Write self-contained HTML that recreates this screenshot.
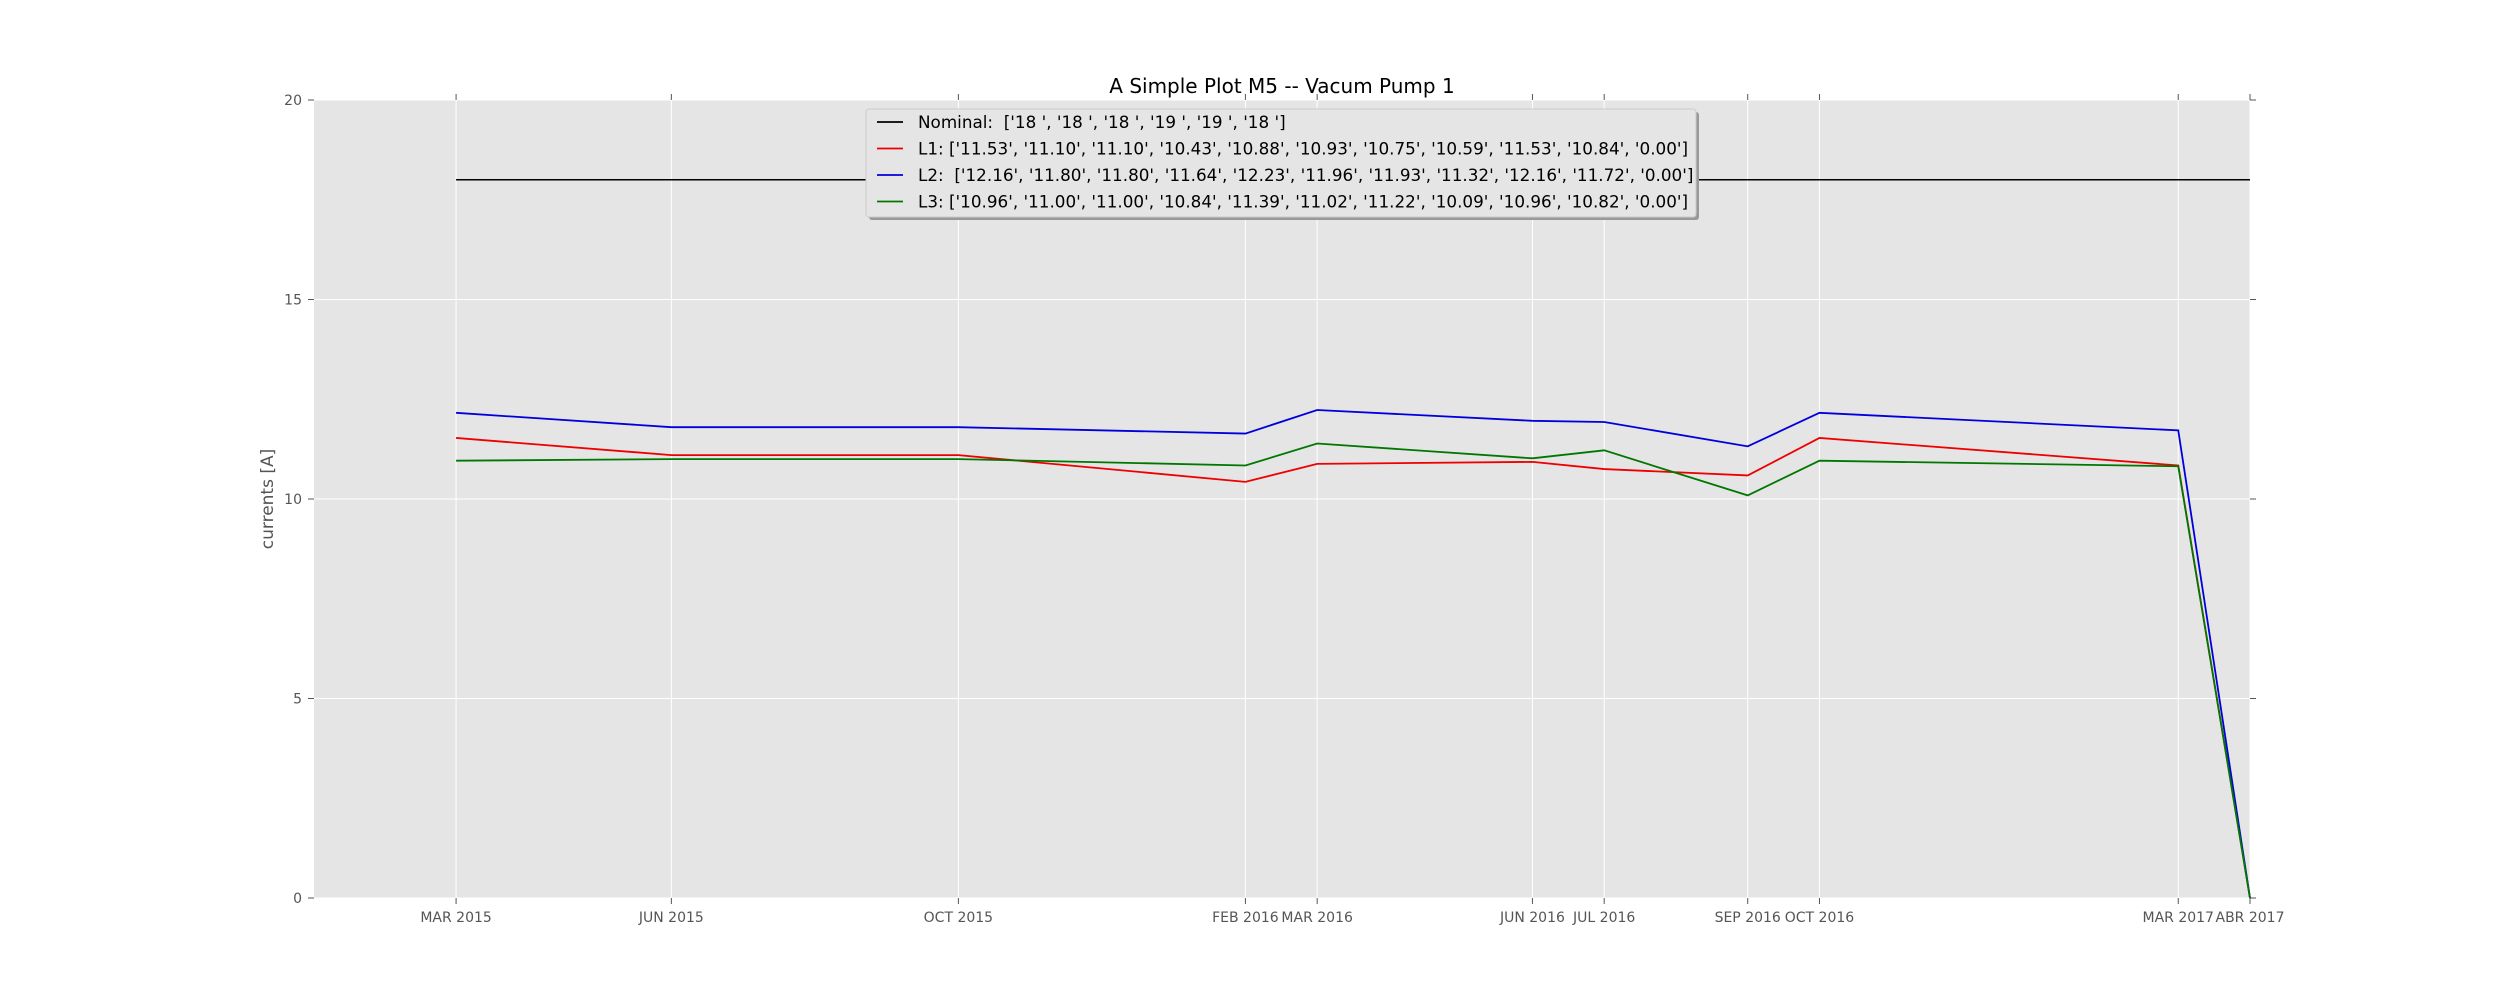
<!DOCTYPE html>
<html><head><meta charset="utf-8"><style>
body{margin:0;background:#fff}
svg{display:block;font-family:"DejaVu Sans","Liberation Sans",sans-serif}
text{white-space:pre}
</style></head><body>
<svg id="chart" width="2500" height="1000" viewBox="0 0 2500 1000" xmlns="http://www.w3.org/2000/svg">
<rect x="314" y="100" width="1936" height="798" fill="#e5e5e5"/>
<g id="grid"></g>
<g id="ticks"></g>
<g id="series"></g>
<text x="1282" y="93" font-size="20" text-anchor="middle" fill="#000">A Simple Plot M5 -- Vacum Pump 1</text>
<text transform="translate(273,499) rotate(-90)" font-size="17" text-anchor="middle" fill="#555">currents [A]</text>
<g id="legend">
<rect x="869" y="112" width="830" height="108" fill="#999" rx="3"/>
<rect x="866" y="109" width="830" height="108" fill="#e5e5e5" stroke="#ccc" rx="3"/>
</g>
</svg>
<script>
const months = [0, 3, 7, 11, 12, 15, 16, 18, 19, 24, 25];
const tickLabels = ["MAR 2015","JUN 2015","OCT 2015","FEB 2016","MAR 2016","JUN 2016","JUL 2016","SEP 2016","OCT 2016","MAR 2017","ABR 2017"];
const nominal = [18,18,18,18,18,18,18,18,18,18,18];
const l1 = [11.53,11.10,11.10,10.43,10.88,10.93,10.75,10.59,11.53,10.84,0.00];
const l2 = [12.16,11.80,11.80,11.64,12.23,11.96,11.93,11.32,12.16,11.72,0.00];
const l3 = [10.96,11.00,11.00,10.84,11.39,11.02,11.22,10.09,10.96,10.82,0.00];
const yTicks = [0,5,10,15,20];
const legendLabels = [
"Nominal:  ['18 ', '18 ', '18 ', '19 ', '19 ', '18 ']",
"L1: ['11.53', '11.10', '11.10', '10.43', '10.88', '10.93', '10.75', '10.59', '11.53', '10.84', '0.00']",
"L2:  ['12.16', '11.80', '11.80', '11.64', '12.23', '11.96', '11.93', '11.32', '12.16', '11.72', '0.00']",
"L3: ['10.96', '11.00', '11.00', '10.84', '11.39', '11.02', '11.22', '10.09', '10.96', '10.82', '0.00']"];
const NS="http://www.w3.org/2000/svg";
const X0=314,X1=2250,Y0=898,Y1=100,xmin=-1.98,xmax=25,ymin=0,ymax=20;
const xs=v=>X0+(v-xmin)/(xmax-xmin)*(X1-X0);
const ys=v=>Y0-(v-ymin)/(ymax-ymin)*(Y0-Y1);
function mk(tag,attrs,parent){const e=document.createElementNS(NS,tag);for(const k in attrs)e.setAttribute(k,attrs[k]);parent.appendChild(e);return e;}
const grid=document.getElementById('grid'),ticks=document.getElementById('ticks'),ser=document.getElementById('series'),leg=document.getElementById('legend');
months.forEach((m,i)=>{
 const x=xs(m);
 const g=mk('line',{x1:x,x2:x,y1:Y1,y2:Y0,stroke:'#fff','stroke-width':1},grid);
 
 
 mk('line',{x1:x,x2:x,y1:Y0,y2:Y0+6,stroke:'#555'},ticks);
 mk('line',{x1:x,x2:x,y1:Y1,y2:Y1-6,stroke:'#555'},ticks);
 const t=mk('text',{x:x,y:Y0+24,'font-size':14,'text-anchor':'middle',fill:'#555'},ticks);
 t.textContent=tickLabels[i];
 
 
});
yTicks.forEach(v=>{
 const y=ys(v);
 const g=mk('line',{x1:X0,x2:X1,y1:y,y2:y,stroke:'#fff','stroke-width':1},grid);
 
 
 mk('line',{x1:X0-6,x2:X0,y1:y,y2:y,stroke:'#555'},ticks);
 mk('line',{x1:X1,x2:X1+6,y1:y,y2:y,stroke:'#555'},ticks);
 const t=mk('text',{x:X0-12,y:y+5,'font-size':14,'text-anchor':'end',fill:'#555'},ticks);
 t.textContent=v;
 
 
});
const series=[[nominal,'#000','nominal-line'],[l1,'#e00','l1-line'],[l2,'#00d','l2-line'],[l3,'#070','l3-line']];
series.forEach(([d,c,n])=>{
 const p=mk('polyline',{points:d.map((v,i)=>xs(months[i])+','+ys(v)).join(' '),fill:'none',stroke:c,'stroke-width':n==='nominal-line'?1.5:1.8},ser);
 
 
});
legendLabels.forEach((s,i)=>{
 const y=122+i*26.5;
 mk('line',{x1:877,x2:903,y1:y,y2:y,stroke:series[i][1],'stroke-width':1.8},leg);
 const t=mk('text',{x:918,y:y+6,'font-size':16.8,fill:'#000'},leg);
 t.textContent=s;
 
 
});
</script>
</body></html>
